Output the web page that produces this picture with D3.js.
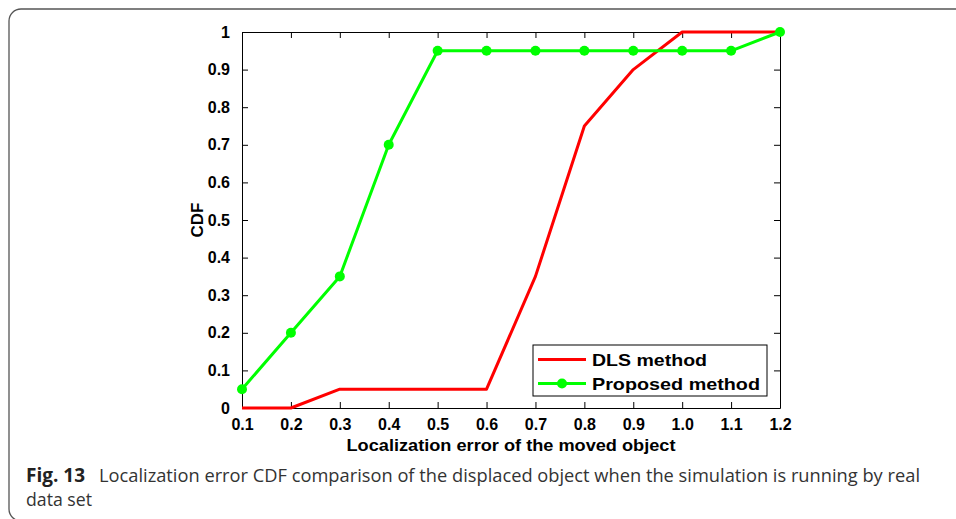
<!DOCTYPE html>
<html>
<head>
<meta charset="utf-8">
<script src="https://cdn.jsdelivr.net/npm/d3@7"></script>
<style>
  html, body { margin: 0; padding: 0; background: #fff; }
  svg { display: block; }
</style>
</head>
<body>
<svg id="fig" width="956" height="519"></svg>
<script>
// Localization error values (x axis) and CDF of each method
const errors = [0.1, 0.2, 0.3, 0.4, 0.5, 0.6, 0.7, 0.8, 0.9, 1.0, 1.1, 1.2];
const dlsCdf = [0, 0, 0.05, 0.05, 0.05, 0.05, 0.35, 0.75, 0.9, 1, 1, 1];
const proposedCdf = [0.05, 0.2, 0.35, 0.7, 0.95, 0.95, 0.95, 0.95, 0.95, 0.95, 0.95, 1];
const xTickLabels = ["0.1", "0.2", "0.3", "0.4", "0.5", "0.6", "0.7", "0.8", "0.9", "1.0", "1.1", "1.2"];
const yTicks = [0, 0.1, 0.2, 0.3, 0.4, 0.5, 0.6, 0.7, 0.8, 0.9, 1];
const yTickLabels = ["0", "0.1", "0.2", "0.3", "0.4", "0.5", "0.6", "0.7", "0.8", "0.9", "1"];
const seriesNames = ["DLS method", "Proposed method"];
const seriesColors = ["#ff0000", "#00ff00"];

const svg = d3.select("#fig");
const plot = { left: 242, right: 780, top: 32, bottom: 408 };
const chartFont = "'Liberation Sans', Arial, Helvetica, sans-serif";

// Rounded figure frame (its right and bottom edges run off the page)
svg.append("rect")
  .attr("x", 9).attr("y", 9)
  .attr("width", 1100).attr("height", 512)
  .attr("rx", 12).attr("ry", 12)
  .attr("fill", "none").attr("stroke", "#555").attr("stroke-width", 1.3);

const x = d3.scaleLinear().domain([0.1, 1.2]).range([plot.left, plot.right]);
const y = d3.scaleLinear().domain([0, 1]).range([plot.bottom, plot.top]);

// Axes with inward ticks on all four sides
const tickLen = 6;
const bottomAxis = d3.axisBottom(x).tickValues(errors)
  .tickFormat((d, i) => xTickLabels[i]).tickSizeInner(-tickLen).tickSizeOuter(0).tickPadding(11);
const topAxis = d3.axisTop(x).tickValues(errors).tickFormat("").tickSizeInner(-tickLen).tickSizeOuter(0);
const leftAxis = d3.axisLeft(y).tickValues(yTicks)
  .tickFormat((d, i) => yTickLabels[i]).tickSizeInner(-tickLen).tickSizeOuter(0).tickPadding(12);
const rightAxis = d3.axisRight(y).tickValues(yTicks).tickFormat("").tickSizeInner(-tickLen).tickSizeOuter(0);

function styleAxis(g) {
  g.select(".domain").attr("stroke", "#000").attr("stroke-width", 1);
  g.selectAll(".tick line").attr("stroke", "#000").attr("stroke-width", 1);
  g.selectAll(".tick text")
    .attr("font-family", chartFont).attr("font-weight", "bold")
    .attr("font-size", 16).attr("fill", "#000");
}

svg.append("g").attr("transform", `translate(0,${plot.bottom})`).call(bottomAxis).call(styleAxis);
svg.append("g").attr("transform", `translate(0,${plot.top})`).call(topAxis).call(styleAxis);
svg.append("g").attr("transform", `translate(${plot.left},0)`).call(leftAxis).call(styleAxis);
svg.append("g").attr("transform", `translate(${plot.right},0)`).call(rightAxis).call(styleAxis);

// Axis titles
svg.append("text")
  .attr("x", (plot.left + plot.right) / 2).attr("y", 451)
  .attr("text-anchor", "middle")
  .attr("font-family", chartFont).attr("font-weight", "bold").attr("font-size", 17)
  .attr("textLength", 329).attr("lengthAdjust", "spacingAndGlyphs")
  .text("Localization error of the moved object");
svg.append("text")
  .attr("transform", "translate(203,220) rotate(-90)")
  .attr("text-anchor", "middle")
  .attr("font-family", chartFont).attr("font-weight", "bold").attr("font-size", 17)
  .text("CDF");

// Series lines
const line = d3.line().x((d, i) => x(errors[i])).y(d => y(d));
const plotG = svg.append("g");
plotG.append("path").datum(dlsCdf)
  .attr("d", line).attr("fill", "none")
  .attr("stroke", seriesColors[0]).attr("stroke-width", 3).attr("stroke-linejoin", "round");
plotG.append("path").datum(proposedCdf)
  .attr("d", line).attr("fill", "none")
  .attr("stroke", seriesColors[1]).attr("stroke-width", 3).attr("stroke-linejoin", "round");
plotG.selectAll("circle.pm").data(proposedCdf).join("circle")
  .attr("class", "pm")
  .attr("cx", (d, i) => x(errors[i])).attr("cy", d => y(d))
  .attr("r", 5).attr("fill", seriesColors[1]);

// Legend
const legend = svg.append("g");
legend.append("rect")
  .attr("x", 533).attr("y", 345).attr("width", 234).attr("height", 51)
  .attr("fill", "#fff").attr("stroke", "#000").attr("stroke-width", 1);
const rows = [359.5, 383.5];
const textWidths = [115, 168];
seriesNames.forEach((name, i) => {
  legend.append("line")
    .attr("x1", 538).attr("x2", 586).attr("y1", rows[i]).attr("y2", rows[i])
    .attr("stroke", seriesColors[i]).attr("stroke-width", 3);
  if (i === 1) {
    legend.append("circle").attr("cx", 562).attr("cy", rows[i]).attr("r", 5).attr("fill", seriesColors[i]);
  }
  legend.append("text")
    .attr("x", 592).attr("y", rows[i] + 6)
    .attr("font-family", chartFont).attr("font-weight", "bold").attr("font-size", 17)
    .attr("textLength", textWidths[i]).attr("lengthAdjust", "spacingAndGlyphs")
    .text(name);
});

// Caption
const capFont = "'Open Sans', 'Noto Sans', sans-serif";
svg.append("text")
  .attr("x", 26).attr("y", 482)
  .attr("font-family", capFont).attr("font-weight", "bold").attr("font-size", 19)
  .attr("fill", "#222")
  .attr("textLength", 59).attr("lengthAdjust", "spacingAndGlyphs")
  .text("Fig. 13");
svg.append("text")
  .attr("x", 99).attr("y", 482)
  .attr("font-family", capFont).attr("font-size", 19)
  .attr("fill", "#333")
  .attr("textLength", 821).attr("lengthAdjust", "spacingAndGlyphs")
  .text("Localization error CDF comparison of the displaced object when the simulation is running by real");
svg.append("text")
  .attr("x", 26).attr("y", 506)
  .attr("font-family", capFont).attr("font-size", 19)
  .attr("fill", "#333")
  .attr("textLength", 66).attr("lengthAdjust", "spacingAndGlyphs")
  .text("data set");
</script>
</body>
</html>
